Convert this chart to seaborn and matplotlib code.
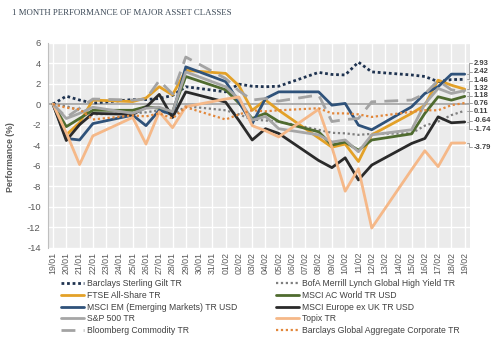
import matplotlib
matplotlib.use("Agg")
import matplotlib.pyplot as plt
import matplotlib.transforms as mtransforms
import seaborn as sns
import pandas as pd

# ---------------- data ----------------
dates = ["19/01", "20/01", "21/01", "22/01", "23/01", "24/01", "25/01", "26/01",
         "27/01", "28/01", "29/01", "30/01", "31/01", "01/02", "02/02", "03/02",
         "04/02", "05/02", "06/02", "07/02", "08/02", "09/02", "10/02", "11/02",
         "12/02", "13/02", "14/02", "15/02", "16/02", "17/02", "18/02", "19/02"]
N = None
gilt = [0, 0.78, 0.4, 0.1, N, N, 0.45, 0.45, 0.55, 0.85, 1.7, N, N, 1.2, 1.95, 1.75,
        1.7, 1.75, N, N, 3.1, 2.9, 2.85, 4.1, 3.15, N, N, 2.85, 2.7, 2.2, 2.4, 2.42]
bofa = [0, -0.2, -0.6, -1.0, N, N, -0.9, -0.8, -0.6, -1.1, -0.2, N, N, -0.6, -1.0, -1.5,
        -1.6, -1.7, N, N, -2.5, -2.8, -2.85, -3.0, -2.9, N, N, -2.85, -2.1, -1.7, -1.07, -0.64]
ftse = [0, -3.0, -1.8, 0.4, N, N, 0.25, 0.6, 1.7, 0.9, 3.3, N, N, 3.0, 1.8, -0.6,
        0.4, -0.6, N, N, -3.3, -4.2, -3.9, -5.6, -3.0, N, N, -0.9, -0.1, 2.34, 1.85, 1.46]
acwi = [0, -2.2, -1.4, -0.6, N, N, -0.6, -0.25, -0.4, -0.75, 2.7, N, N, 1.4, 0.1, -1.4,
        -0.9, -1.7, N, N, -2.7, -4.0, -3.7, -4.5, -3.5, N, N, -2.9, -0.9, 0.72, 0.39, 0.76]
em = [0, -3.35, -3.5, -1.9, N, N, -1.07, -2.1, -0.6, -1.0, 3.64, N, N, 2.2, 0.2, -1.9,
      0.55, 1.2, N, N, 1.2, -0.1, 0.07, -2.05, -2.5, N, N, -0.26, 1.04, 1.7, 2.93, 2.93]
europe = [0, -3.55, -2.0, -0.9, N, N, -1.0, -0.3, 0.95, -1.3, 1.2, N, N, 0.2, -1.6, -3.5,
          -2.4, -2.86, N, N, -5.5, -6.2, -5.24, -7.4, -5.95, N, N, -3.84, -3.35, -1.24, -1.82, -1.74]
sp500 = [0, -1.4, -0.9, -0.3, N, N, -0.9, -0.4, -0.3, -0.75, 3.15, N, N, 1.7, 0.5, -1.56,
         -1.2, -2.4, N, N, -3.0, -3.7, -3.5, -4.65, -3.0, N, N, -2.5, 0.02, 1.53, 1.04, 1.32]
topix = [0, -2.8, -5.9, -3.1, N, N, -1.3, -3.9, -0.75, -2.3, -0.25, N, N, 0.5, 0.7, -2.1,
         -2.6, -3.2, N, N, -0.5, -4.2, -8.5, -6.3, -12.1, N, N, -6.4, -4.55, -6.1, -3.8, -3.79]
bcom = [0, -1.3, -0.4, 0.5, N, N, 0.4, 0.5, 2.3, 1.0, 4.6, N, N, 2.5, 1.3, 0.4,
        0.55, 0.3, N, N, 0.9, -1.7, -1.5, -1.4, 0.23, N, N, 0.4, 1.0, 2.3, 1.4, 1.18]
aggcorp = [0, -0.35, -0.5, -1.5, N, N, -1.1, -1.2, -0.9, -1.4, -0.3, N, N, -1.5, -1.0, -0.6,
           -0.7, -0.6, N, N, -0.4, -0.9, -0.9, -1.0, -1.25, N, N, -0.75, -0.6, -0.6, -0.1, 0.11]

names = ["Barclays Sterling Gilt TR", "BofA Merrill Lynch Global High Yield TR",
         "FTSE All-Share TR", "MSCI AC World TR USD",
         "MSCI EM (Emerging Markets) TR USD", "MSCI Europe ex UK TR USD",
         "S&P 500 TR", "Topix TR", "Bloomberg Commodity TR",
         "Barclays Global Aggregate Corporate TR"]
series = [gilt, bofa, ftse, acwi, em, europe, sp500, topix, bcom, aggcorp]

end_labels = ["2.93", "2.42", "1.46", "1.32", "1.18", "0.76", "0.11", "-0.64", "-1.74", "-3.79"]
end_values = [2.93, 2.42, 1.46, 1.32, 1.18, 0.76, 0.11, -0.64, -1.74, -3.79]
end_label_pos = [4.0, 3.17, 2.3, 1.56, 0.83, 0.1, -0.68, -1.61, -2.44, -4.22]

# ---------------- style ----------------
sns.set_theme(style="darkgrid", rc={
    "axes.facecolor": "#ebebeb",
    "grid.color": "white",
    "grid.linewidth": 1.0,
})
plt.rcParams["font.family"] = ["Liberation Sans", "DejaVu Sans"]

styles = {
    "Barclays Sterling Gilt TR": dict(color="#1f3350", linestyle=(0, (1, 1)), linewidth=2.0),
    "BofA Merrill Lynch Global High Yield TR": dict(color="#7f7f7f", linestyle=(0, (1, 1.2)), linewidth=1.6),
    "FTSE All-Share TR": dict(color="#e3a128", linestyle="-", linewidth=2.0),
    "MSCI AC World TR USD": dict(color="#4f6b2f", linestyle="-", linewidth=2.0),
    "MSCI EM (Emerging Markets) TR USD": dict(color="#2f527a", linestyle="-", linewidth=2.0),
    "MSCI Europe ex UK TR USD": dict(color="#2a2a2a", linestyle="-", linewidth=2.0),
    "S&P 500 TR": dict(color="#a6a6a6", linestyle="-", linewidth=2.0),
    "Topix TR": dict(color="#f5b888", linestyle="-", linewidth=2.0),
    "Bloomberg Commodity TR": dict(color="#a3a3a3", linestyle=(0, (5, 3)), linewidth=2.0),
    "Barclays Global Aggregate Corporate TR": dict(color="#e2873b", linestyle=(0, (1, 1.2)), linewidth=1.6),
}

fig = plt.figure(figsize=(5.0, 3.55), dpi=100)
fig.patch.set_facecolor("white")
ax = fig.add_axes([0.0954, 0.3028, 0.8446, 0.5769])

ax.axhline(0, color="#a8a8a8", linewidth=1.3, zorder=1)

handles = {}
for name, vals in zip(names, series):
    df = pd.DataFrame({"day": list(range(len(dates))), "value": vals}).dropna()
    sns.lineplot(data=df, x="day", y="value", ax=ax, **styles[name])
    handles[name] = ax.get_lines()[-1]

ax.set_xlim(-0.4, len(dates) - 0.6)
ax.set_ylim(-14, 6)
ax.set_xticks(range(len(dates)))
ax.set_xticklabels(dates, rotation=90, fontsize=6.3, color="#595959")
ax.set_yticks(range(-14, 7, 2))
ax.set_yticklabels([str(v) for v in range(-14, 7, 2)], fontsize=6.8, color="#595959")
ax.set_xlabel("")
ax.set_ylabel("Performance (%)", fontsize=6.3, color="#595959", fontweight="bold")
ax.yaxis.set_label_coords(-0.077, 0.44)

for s in ["top", "right", "bottom"]:
    ax.spines[s].set_visible(False)
ax.spines["left"].set_visible(True)
ax.spines["left"].set_color("#bfbfbf")
ax.spines["left"].set_linewidth(0.8)
ax.tick_params(axis="y", length=3, color="#bfbfbf", width=0.8, pad=2)
ax.tick_params(axis="x", length=0, pad=3)

# end labels
trans = mtransforms.blended_transform_factory(ax.transAxes, ax.transData)
for lab, val, pos in zip(end_labels, end_values, end_label_pos):
    ax.text(1.008, pos, lab, transform=trans, fontsize=5.5, fontweight="bold",
            color="#404040", va="center", ha="left", clip_on=False)
    if abs(pos - val) > 0.3:
        ax.plot([0.993, 0.997, 0.997, 1.004], [val, val, pos, pos], transform=trans,
                color="#a0a0a0", linewidth=0.7, clip_on=False)

# title
fig.text(0.024, 0.962, "1 MONTH PERFORMANCE OF MAJOR ASSET CLASSES",
         fontsize=6.3, family=["Liberation Serif", "DejaVu Serif"], color="#3b4856",
         va="center", ha="left")

# legend in two columns
col1 = [names[0], names[2], names[4], names[6], names[8]]
col2 = [names[1], names[3], names[5], names[7], names[9]]
leg_kw = dict(frameon=False, fontsize=6.2, handlelength=2.7, handletextpad=0.3,
              labelspacing=0.34, borderaxespad=0, borderpad=0, labelcolor="#404040")
leg1 = fig.legend([handles[n] for n in col1], col1, loc="upper left",
                  bbox_to_anchor=(0.122, 0.215), **leg_kw)
leg2 = fig.legend([handles[n] for n in col2], col2, loc="upper left",
                  bbox_to_anchor=(0.552, 0.215), **leg_kw)

fig.savefig("out.png", dpi=100, facecolor="white")
